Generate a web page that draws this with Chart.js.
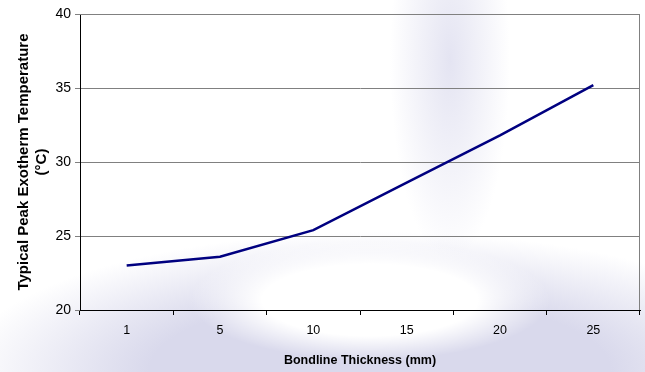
<!DOCTYPE html>
<html lang="en">
  <head>
    <meta charset="UTF-8" />
    <title>Bondline Thickness vs Exotherm</title>
    <script src="https://cdn.jsdelivr.net/npm/chart.js"></script>
    <style>
      html, body {
        margin: 0;
        padding: 0;
      }
      body {
        width: 645px;
        height: 372px;
        font-family: "Liberation Sans", Arial, sans-serif;
        background:
          radial-gradient(ellipse 180px 60px at 370px 300px, #ffffff 60%, rgba(255,255,255,0) 100%),
          radial-gradient(ellipse 420px 140px at 380px 372px, #d9d9ec 55%, rgba(217,217,236,0) 100%),
          radial-gradient(ellipse 60px 200px at 450px 60px, #e4e4f2 0%, rgba(255,255,255,0) 100%),
          #ffffff;
      }
      .chart-box {
        width: 645px;
        height: 372px;
      }
    </style>
  </head>
  <body>
    <div class="chart-box">
      <canvas id="myChart"></canvas>
    </div>
    <script>
      const thickness = ["1", "5", "10", "15", "20", "25"];
      const peakTemp = [23.0, 23.6, 25.4, 28.6, 31.8, 35.2];
      const yTicks = [20, 25, 30, 35, 40];

      // outline the plot area (top/right edges)
      const frame = {
        id: "frame",
        afterDraw(chart) {
          const a = chart.chartArea;
          const c = chart.ctx;
          c.save();
          c.strokeStyle = "#808080";
          c.lineWidth = 1;
          c.beginPath();
          c.moveTo(a.left, a.top + 0.5);
          c.lineTo(a.right - 0.5, a.top + 0.5);
          c.lineTo(a.right - 0.5, a.bottom);
          c.stroke();
          c.restore();
        },
      };

      const ctx = document.getElementById("myChart");
      new Chart(ctx, {
        type: "line",
        data: {
          labels: thickness,
          datasets: [
            {
              data: peakTemp,
              borderColor: "#000080",
              borderWidth: 2.5,
              pointRadius: 0,
              tension: 0,
              fill: false,
            },
          ],
        },
        plugins: [frame],
        options: {
          responsive: true,
          maintainAspectRatio: false,
          animation: false,
          layout: { padding: { top: 14, right: 5, left: 15, bottom: 0 } },
          plugins: {
            legend: { display: false },
            tooltip: { enabled: false },
          },
          scales: {
            x: {
              offset: true,
              grid: {
                offset: true,
                drawOnChartArea: false,
                drawTicks: true,
                tickLength: 5,
                color: "#000000",
              },
              border: { color: "#000000" },
              ticks: {
                color: "#000000",
                font: { family: "Liberation Sans", size: 12.5 },
                padding: 8,
                maxRotation: 0,
              },
              title: {
                display: true,
                text: "Bondline Thickness (mm)",
                color: "#000000",
                font: { family: "Liberation Sans", size: 12.5, weight: "bold" },
                padding: { top: 5 },
              },
              afterFit(scale) {
                scale.height = 62;
              },
            },
            y: {
              min: 20,
              max: 40,
              afterBuildTicks(scale) {
                scale.ticks = yTicks.map((v) => ({ value: v }));
              },
              grid: {
                color: "#808080",
                drawTicks: true,
                tickLength: 5,
              },
              border: { color: "#000000" },
              ticks: {
                color: "#000000",
                font: { family: "Liberation Sans", size: 14 },
                padding: 4,
              },
              title: {
                display: true,
                text: ["Typical Peak Exotherm Temperature", "(°C)"],
                color: "#000000",
                font: { family: "Liberation Sans", size: 15, weight: "bold", lineHeight: 1.2 },
                padding: { top: 0, bottom: 0 },
              },
              afterFit(scale) {
                scale.width = 65;
              },
            },
          },
        },
      });
    </script>
  </body>
</html>
